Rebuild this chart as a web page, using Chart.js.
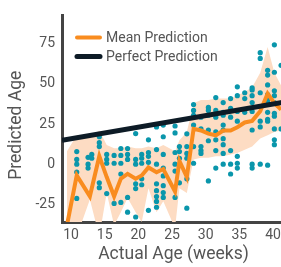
<!DOCTYPE html>
<html><head><meta charset="utf-8">
<script src="https://cdn.jsdelivr.net/npm/chart.js@4.4.1/dist/chart.umd.min.js"></script>
<style>
html,body{margin:0;padding:0;background:#fff;overflow:hidden;width:281px;height:267px}
#wrap{width:290px;height:267px;position:relative}
</style>
</head><body><div id="wrap"><canvas id="c" width="290" height="267"></canvas></div>
<script>
// ---- data ----
const xTicks = [10, 15, 20, 25, 30, 35, 40];
const yTicks = [-25, 0, 25, 50, 75];
const xTitle = 'Actual Age (weeks)';
const yTitle = 'Predicted Age';
const legendLabels = ['Mean Prediction', 'Perfect Prediction'];

const meanWeeks  = [9.4, 10.85, 12.8, 14.2, 15.3, 16.4, 17.4, 18.4, 19.6, 20.5, 21.5, 22.7, 23.7, 25.45, 26.1, 27.2, 28.2, 29.3, 30.4, 31.5, 32.6, 33.7, 34.7, 35.8, 36.9, 38.1, 39.2, 40.2, 41.2];
const meanValues = [-38, -7, -20, 5, -8, -20, -9, -6, -9, -7, -2, -5, -3, -17, 2, -8, 22, 21, 19, 18, 21, 21, 23, 26, 27, 33, 44, 38, 34];
const bandUpper  = [8, 18, 17, 21, 12, 10, 10, 11, 10, 10, 11, 10, 12, 8, 15, 20, 38, 40, 40, 41, 41, 41, 43, 45, 48, 57, 73, 57, 49];
const bandLower  = [-60, -45, -22, -45, -18, -38, -30, -21, -30, -36, -15, -30, -23, -40, -15, -18, 3, 4, 4, 5, 5, 6, 7, 9, 11, 16, 18, 20, 21];

const perfectWeeks  = [8.66, 41.78];
const perfectValues = [14.9, 38.8];

const dotWeeks = [10.85, 12.53, 13.08, 14.2, 15.3, 16.4, 17.4, 18.4, 19.6, 20.5, 21.5, 22.7, 23.7, 25.45, 26.1, 27.2, 28.2, 29.3, 30.4, 31.5, 32.6, 33.7, 34.7, 35.8, 36.9, 38.1, 39.2, 40.2, 41.2];
const dotValues = [
  [7.9, 3.0, 0, -4.9, -21.3],
  [4.3, 0, -2.4],
  [6.1, 3.7],
  [17.1, 13.4, 11, -11.6, -14.6],
  [6.1, 3, 0.6, -18.3],
  [5.5, 0.6, -24.4],
  [9.8, 5.5, 0.6, -6.1, -23.8],
  [9.8, 6.1, 3, -20.7, -29.9],
  [19.1, 3, 0, -12.2, -15.2, -32.9],
  [6.1, 3.7, 0.6, -9.1, -12.8],
  [15.2, 7.3, 4.9, 1.2, -28.7],
  [23.2, 9.1, 0, -12.2, -16.5, -20.1, -23.2, -26.8],
  [24.4, 17.1, 6.1, -2.4, -7.3, -13.4, -17.7, -20.7],
  [23.8, 19.5, 7.3, 0, -4.3, -20.7],
  [11, 7.9, 3.7, -11.6],
  [18.9, 11, 6.7, 3.7, -9.1, -27.4],
  [37.2, 33.5, 30.5, 24.4, 11, 0.6],
  [29.3, 22, 11, 8.5, 6.7],
  [35.4, 33.5, 30.5, 21.3, 14.6, -10.4],
  [41.5, 33.5, 29.3, 20.1, 15.2, 8.5, -2.4],
  [38.4, 32.3, 30.5, 24.4, 21.3, 15.9, 12.2, 6.7, 0],
  [40.9, 34.8, 29.3, 8.5, 0, -6.1],
  [48.2, 42.7, 32.9, 26.8, 4.9, 0.6, -2.4],
  [44.5, 40.9, 32.3],
  [47.6, 46.3, 42.7, 38.4, 32.9, 21.3, 0, -2.4],
  [69.5, 65.9, 44.5, 26.8, 23.2, 0],
  [58.5, 55.5, 49.4, 43.3, 40.2, 38.4, 32.3, 28, 26.8, -0.6],
  [74.4, 57.3, 45.7, 42.7, 38.4, 31.7, 29.9, 22, 15.2, 12.2],
  [61.6, 22]
];

const xMin = 8.66, xMax = 41.78, yMin = -36, yMax = 92.7;

// ---- styling ----
const FONT = 'Roboto, "Open Sans", sans-serif';
const TEXT = '#555555';
const ORANGE = '#F98C1F', BAND = '#FDDCC3', TEAL = '#0A96AB', DARK = '#0D1B26', AXIS = '#444444';

const xy = (xs, ys) => xs.map((x, i) => ({x: x, y: ys[i]}));
const points = [];
dotWeeks.forEach((w, i) => dotValues[i].forEach(v => points.push({x: w, y: v})));

const innerLegend = {
  id: 'innerLegend',
  afterDraw(chart) {
    const {ctx, chartArea} = chart;
    const items = [
      {label: legendLabels[0], color: ORANGE, w: 4},
      {label: legendLabels[1], color: DARK, w: 5}
    ];
    ctx.save();
    ctx.font = '14px ' + FONT;
    ctx.textBaseline = 'middle';
    items.forEach((it, i) => {
      const y = chartArea.top + 22 + i * 19;
      const x0 = chartArea.left + 15;
      ctx.beginPath();
      ctx.lineCap = 'round';
      ctx.strokeStyle = it.color;
      ctx.lineWidth = it.w;
      ctx.moveTo(x0, y); ctx.lineTo(x0 + 23, y);
      ctx.stroke();
      ctx.fillStyle = TEXT;
      ctx.fillText(it.label, x0 + 29, y + 1);
    });
    ctx.restore();
  }
};

new Chart(document.getElementById('c'), {
  type: 'scatter',
  data: {
    datasets: [
      {type: 'line', label: 'upper', data: xy(meanWeeks, bandUpper), fill: '+1',
       backgroundColor: BAND, borderWidth: 0, borderColor: 'rgba(0,0,0,0)', pointRadius: 0, tension: 0, order: 5},
      {type: 'line', label: 'lower', data: xy(meanWeeks, bandLower), fill: false,
       borderWidth: 0, borderColor: 'rgba(0,0,0,0)', pointRadius: 0, tension: 0, order: 5},
      {type: 'scatter', label: 'dots', data: points, backgroundColor: TEAL, borderWidth: 0,
       pointRadius: 2.6, order: 3},
      {type: 'line', label: legendLabels[0], data: xy(meanWeeks, meanValues), fill: false,
       borderColor: ORANGE, borderWidth: 4, pointRadius: 0, tension: 0, order: 2},
      {type: 'line', label: legendLabels[1], data: xy(perfectWeeks, perfectValues), fill: false,
       borderColor: DARK, borderWidth: 5, pointRadius: 0, tension: 0, order: 1}
    ]
  },
  options: {
    responsive: false,
    animation: false,
    devicePixelRatio: 1,
    layout: {padding: {top: 11, right: 5, left: 0, bottom: 0}},
    plugins: {legend: {display: false}, tooltip: {enabled: false}},
    scales: {
      x: {
        type: 'linear', min: xMin, max: xMax,
        grid: {display: false, drawTicks: false},
        border: {display: true, color: AXIS, width: 3},
        ticks: {color: TEXT, font: {family: FONT, size: 14}, padding: 5, autoSkip: false, maxRotation: 0},
        afterBuildTicks: s => { s.ticks = xTicks.map(v => ({value: v})); },
        afterFit: s => { s.height = 45; },
        title: {display: true, text: xTitle, color: TEXT, font: {family: FONT, size: 17.5}, padding: {top: 0, bottom: 2}}
      },
      y: {
        type: 'linear', min: yMin, max: yMax,
        grid: {display: false, drawTicks: false},
        border: {display: true, color: AXIS, width: 3},
        ticks: {color: TEXT, font: {family: FONT, size: 14}, padding: 7},
        afterBuildTicks: s => { s.ticks = yTicks.map(v => ({value: v})); },
        afterFit: s => { s.width = 62; },
        title: {display: true, text: yTitle + '   ', color: TEXT, font: {family: FONT, size: 17.5}, padding: {top: 6, bottom: 0}}
      }
    }
  },
  plugins: [innerLegend]
});
</script>
</body></html>
